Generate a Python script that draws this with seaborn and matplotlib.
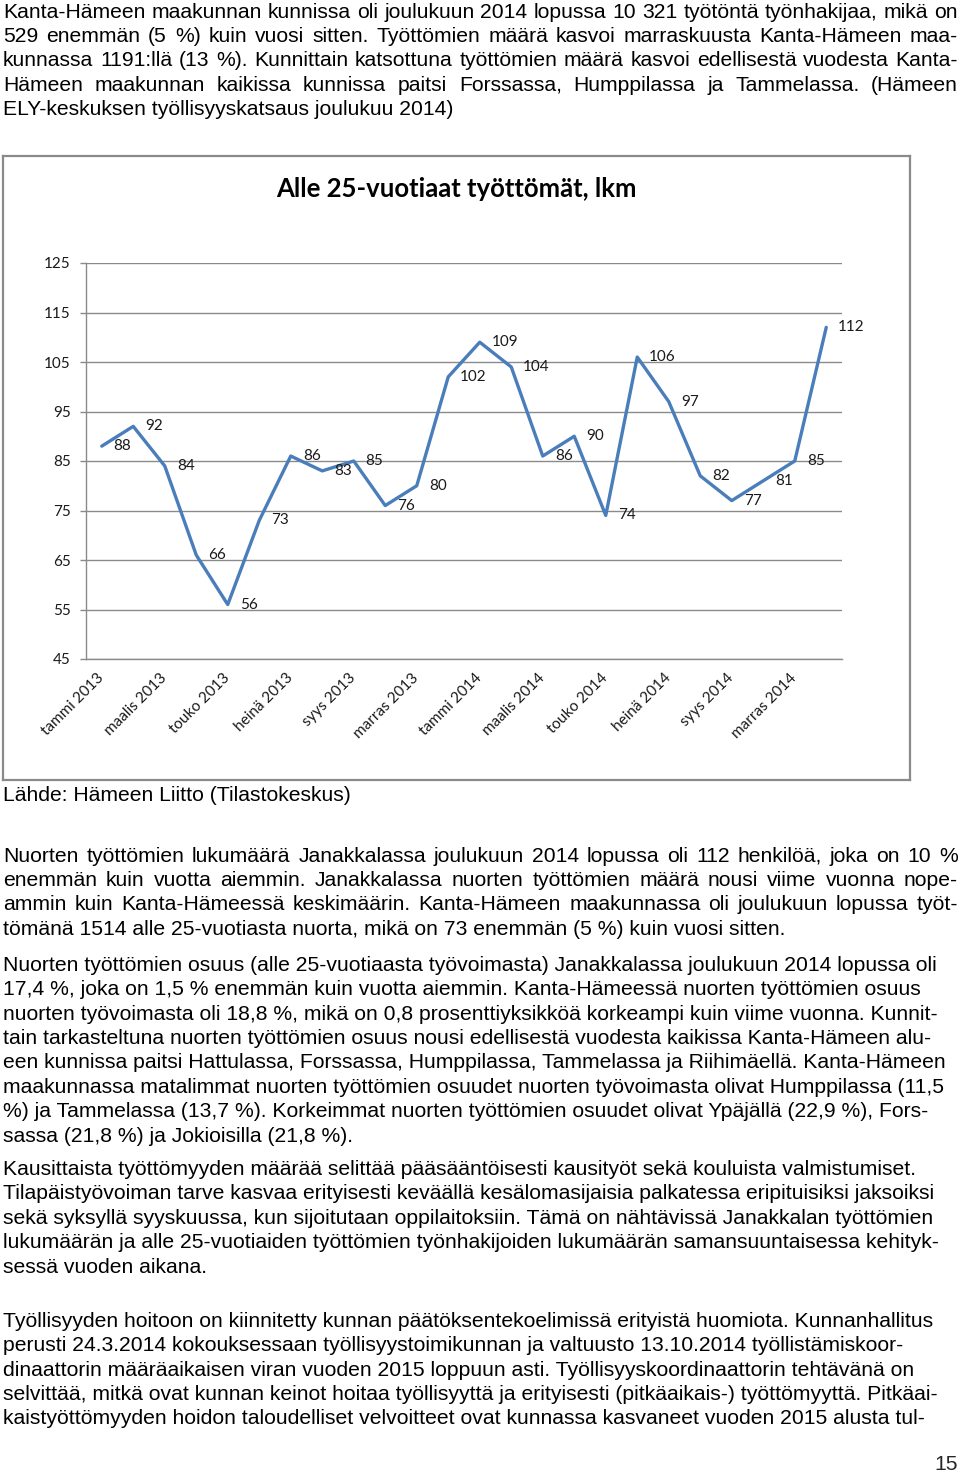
import matplotlib
matplotlib.use("Agg")
import matplotlib.pyplot as plt
import pandas as pd
import seaborn as sns

# 1. Kaavion tiedot (Alle 25-vuotiaat työttömät, lkm)
KUUKAUDET = ["tammi", "helmi", "maalis", "huhti", "touko", "kesä",
             "heinä", "elo", "syys", "loka", "marras", "joulu"]
VUODET = [2013, 2014]
TYOTTOMAT = [88, 92, 84, 66, 56, 73, 86, 83, 85, 76, 80, 102,
             109, 104, 86, 90, 74, 106, 97, 82, 77, 81, 85, 112]
Y_TIKIT = [45, 55, 65, 75, 85, 95, 105, 115, 125]
OTSIKKO = "Alle 25-vuotiaat työttömät, lkm"

kk_nimet = [f"{kk} {v}" for v in VUODET for kk in KUUKAUDET]
df = pd.DataFrame({"kk": range(len(TYOTTOMAT)), "lkm": TYOTTOMAT})

# 2. Sivun tekstit (rivi kerrallaan, True = tasattu molempiin reunoihin)
KAPPALE_1 = [
    ("Kanta-Hämeen maakunnan kunnissa oli joulukuun 2014 lopussa 10 321 työtöntä työnhakijaa, mikä on", True),
    ("529 enemmän (5 %) kuin vuosi sitten. Työttömien määrä kasvoi marraskuusta Kanta-Hämeen maa-", True),
    ("kunnassa 1191:llä (13 %). Kunnittain katsottuna työttömien määrä kasvoi edellisestä vuodesta Kanta-", True),
    ("Hämeen maakunnan kaikissa kunnissa paitsi Forssassa, Humppilassa ja Tammelassa. (Hämeen", True),
    ("ELY-keskuksen työllisyyskatsaus joulukuu 2014)", False),
]
LAHDE = "Lähde: Hämeen Liitto (Tilastokeskus)"
KAPPALE_2 = [
    ("Nuorten työttömien lukumäärä Janakkalassa joulukuun 2014 lopussa oli 112 henkilöä, joka on 10 %", True),
    ("enemmän kuin vuotta aiemmin. Janakkalassa nuorten työttömien määrä nousi viime vuonna nope-", True),
    ("ammin kuin Kanta-Hämeessä keskimäärin. Kanta-Hämeen maakunnassa oli joulukuun lopussa työt-", True),
    ("tömänä 1514 alle 25-vuotiasta nuorta, mikä on 73 enemmän (5 %) kuin vuosi sitten.", False),
]
KAPPALE_3 = [
    "Nuorten työttömien osuus (alle 25-vuotiaasta työvoimasta) Janakkalassa joulukuun 2014 lopussa oli",
    "17,4 %, joka on 1,5 % enemmän kuin vuotta aiemmin. Kanta-Hämeessä nuorten työttömien osuus",
    "nuorten työvoimasta oli 18,8 %, mikä on 0,8 prosenttiyksikköä korkeampi kuin viime vuonna. Kunnit-",
    "tain tarkasteltuna nuorten työttömien osuus nousi edellisestä vuodesta kaikissa Kanta-Hämeen alu-",
    "een kunnissa paitsi Hattulassa, Forssassa, Humppilassa, Tammelassa ja Riihimäellä. Kanta-Hämeen",
    "maakunnassa matalimmat nuorten työttömien osuudet nuorten työvoimasta olivat Humppilassa (11,5",
    "%) ja Tammelassa (13,7 %). Korkeimmat nuorten työttömien osuudet olivat Ypäjällä (22,9 %), Fors-",
    "sassa (21,8 %) ja Jokioisilla (21,8 %).",
]
KAPPALE_4 = [
    "Kausittaista työttömyyden määrää selittää pääsääntöisesti kausityöt sekä kouluista valmistumiset.",
    "Tilapäistyövoiman tarve kasvaa erityisesti keväällä kesälomasijaisia palkatessa eripituisiksi jaksoiksi",
    "sekä syksyllä syyskuussa, kun sijoitutaan oppilaitoksiin. Tämä on nähtävissä Janakkalan työttömien",
    "lukumäärän ja alle 25-vuotiaiden työttömien työnhakijoiden lukumäärän samansuuntaisessa kehityk-",
    "sessä vuoden aikana.",
]
KAPPALE_5 = [
    "Työllisyyden hoitoon on kiinnitetty kunnan päätöksentekoelimissä erityistä huomiota. Kunnanhallitus",
    "perusti 24.3.2014 kokouksessaan työllisyystoimikunnan ja valtuusto 13.10.2014 työllistämiskoor-",
    "dinaattorin määräaikaisen viran vuoden 2015 loppuun asti. Työllisyyskoordinaattorin tehtävänä on",
    "selvittää, mitkä ovat kunnan keinot hoitaa työllisyyttä ja erityisesti (pitkäaikais-) työttömyyttä. Pitkäai-",
    "kaistyöttömyyden hoidon taloudelliset velvoitteet ovat kunnassa kasvaneet vuoden 2015 alusta tul-",
]

sns.set_style("white")
plt.rcParams["font.family"] = ["Liberation Sans", "DejaVu Sans"]

W, H = 960, 1472
fig = plt.figure(figsize=(W / 100, H / 100), dpi=100)
renderer = fig.canvas.get_renderer()

VASEN, OIKEA = 3, 958
RIVIVALI = 24.4
KOKO = 15.2


def teksti_rivi(y, rivi, tasaa=False):
    if not tasaa:
        fig.text(VASEN / W, 1 - y / H, rivi, fontsize=KOKO, va="baseline", color="black")
        return
    sanat = rivi.split(" ")
    osat = [fig.text(0, 1 - y / H, s, fontsize=KOKO, va="baseline", color="black") for s in sanat]
    leveydet = [o.get_window_extent(renderer).width for o in osat]
    vali = (OIKEA - VASEN - sum(leveydet)) / (len(sanat) - 1)
    x = VASEN
    for o, lev in zip(osat, leveydet):
        o.set_x(x / W)
        x += lev + vali


def kappale(y0, rivit):
    for i, r in enumerate(rivit):
        if isinstance(r, tuple):
            teksti_rivi(y0 + i * RIVIVALI, r[0], r[1])
        else:
            teksti_rivi(y0 + i * RIVIVALI, r)


kappale(17.5, KAPPALE_1)
teksti_rivi(800.7, LAHDE)
kappale(861.7, KAPPALE_2)
kappale(970.7, KAPPALE_3)
kappale(1175, KAPPALE_4)
kappale(1326.7, KAPPALE_5)
fig.text(OIKEA / W, 1 - 1470 / H, "15", fontsize=KOKO, ha="right", va="baseline")

# 3. Kaavion kehys
kehys = fig.add_axes([3 / W, 1 - 780 / H, 907 / W, 624 / H])
kehys.set_xticks([])
kehys.set_yticks([])
for s in kehys.spines.values():
    s.set_color("#8a8a8a")
    s.set_linewidth(1.6)

# 4. Viivakaavio
ax = fig.add_axes([86 / W, 1 - 659 / H, (842 - 86) / W, (659 - 263) / H])
ax.set_facecolor("none")
sns.lineplot(data=df, x="kk", y="lkm", ax=ax, color="#4a7ebb", linewidth=2.4)

kaavio_fontti = ["Lato", "DejaVu Sans"]
teksti_vari = "#1a1a1a"
for i, v in enumerate(TYOTTOMAT):
    ax.annotate(str(v), (i, v), xytext=(12, 0), textcoords="offset pixels",
                ha="left", va="center", fontsize=11, family=kaavio_fontti,
                color=teksti_vari)

ax.set_xlim(-0.5, len(TYOTTOMAT) - 0.5)
ax.set_ylim(Y_TIKIT[0], Y_TIKIT[-1])
ax.set_yticks(Y_TIKIT)
ax.set_xticks(range(0, len(kk_nimet), 2))
ax.set_xticklabels(kk_nimet[::2], rotation=45, ha="right", va="center",
                   rotation_mode="anchor", family=kaavio_fontti, fontsize=11,
                   color=teksti_vari)
ax.set_xticks([x - 0.5 for x in range(0, len(kk_nimet) + 1, 2)], minor=True)
ax.set_yticklabels([str(t) for t in Y_TIKIT], family=kaavio_fontti, fontsize=11,
                   color=teksti_vari)
ax.tick_params(axis="x", which="major", length=0, pad=12)
ax.tick_params(axis="x", which="minor", length=4, width=1, color="#8a8a8a", direction="out")
ax.tick_params(axis="y", length=4, width=1, color="#8a8a8a", pad=7, left=True)
ax.yaxis.grid(True, color="#8a8a8a", linewidth=1)
ax.xaxis.grid(False)
ax.set_axisbelow(True)
for s in ["top", "right"]:
    ax.spines[s].set_visible(False)
for s in ["left", "bottom"]:
    ax.spines[s].set_color("#8a8a8a")
    ax.spines[s].set_linewidth(1)
ax.set_xlabel("")
ax.set_ylabel("")

fig.text(456 / W, 1 - 197 / H, OTSIKKO, ha="center", va="baseline", fontsize=18.5,
         fontweight="bold", family=kaavio_fontti, color="black")

fig.savefig("out.png", dpi=100)
